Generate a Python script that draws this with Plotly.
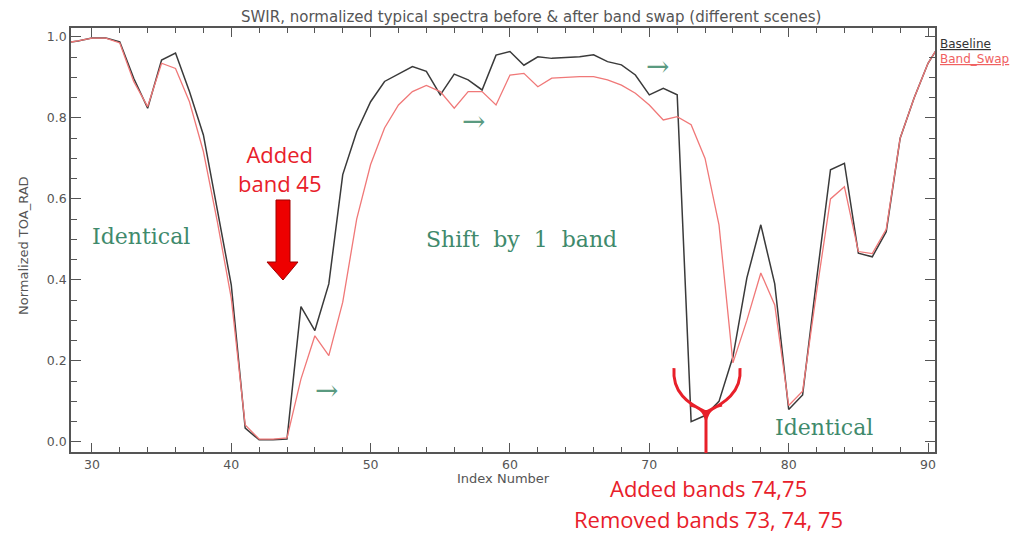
import plotly.graph_objects as go

# ---- data ----
band_index = list(range(28, 92))
baseline = [0.985, 0.99, 0.997, 0.997, 0.988, 0.898, 0.824, 0.943, 0.96, 0.865,
            0.758, 0.569, 0.388, 0.034, 0.005, 0.005, 0.007, 0.334, 0.275, 0.39,
            0.66, 0.766, 0.84, 0.89, 0.908, 0.927, 0.915, 0.857, 0.908, 0.894,
            0.869, 0.955, 0.964, 0.93, 0.951, 0.947, 0.949, 0.951, 0.956, 0.939,
            0.931, 0.906, 0.857, 0.873, 0.857, 0.05, 0.065, 0.10, 0.21, 0.405,
            0.536, 0.39, 0.08, 0.116, 0.40, 0.672, 0.688, 0.466, 0.457, 0.519,
            0.75, 0.849, 0.935, 0.99]
band_swap = [0.985, 0.99, 0.997, 0.997, 0.985, 0.89, 0.828, 0.935, 0.922, 0.84,
             0.717, 0.544, 0.355, 0.042, 0.007, 0.007, 0.01, 0.155, 0.262, 0.213,
             0.345, 0.55, 0.685, 0.775, 0.832, 0.865, 0.88, 0.865, 0.824, 0.865,
             0.865, 0.832, 0.906, 0.91, 0.877, 0.898, 0.90, 0.902, 0.902, 0.894,
             0.881, 0.861, 0.832, 0.795, 0.803, 0.783, 0.70, 0.536, 0.195, 0.30,
             0.417, 0.338, 0.09, 0.125, 0.37, 0.60, 0.63, 0.47, 0.465, 0.525,
             0.75, 0.849, 0.935, 0.99]
x_ticks = [30, 40, 50, 60, 70, 80, 90]
y_ticks = [0.0, 0.2, 0.4, 0.6, 0.8, 1.0]
y_tick_labels = ["0.0", "0.2", "0.4", "0.6", "0.8", "1.0"]

W, H = 1018, 534
L, R, T, B = 71, 83, 28, 82
PW, PH = W - L - R, H - T - B


def px(xp):
    return (xp - L) / PW


def py(yp):
    return (H - B - yp) / PH


AX = "#555555"
GREEN = "#3f8a6c"
RED = "#e8202a"

fig = go.Figure()
fig.add_trace(go.Scatter(x=band_index, y=baseline, mode="lines", name="Baseline",
                         line=dict(color="#3a3a3a", width=1.5)))
fig.add_trace(go.Scatter(x=band_index, y=band_swap, mode="lines", name="Band_Swap",
                         line=dict(color="#f07878", width=1.3)))

axis_common = dict(showgrid=False, zeroline=False, showline=True, linecolor=AX,
                   linewidth=1.5, mirror="ticks", ticks="inside", tickcolor=AX,
                   tickfont=dict(family="DejaVu Sans", size=12.5, color="#555555"))
fig.update_xaxes(range=[28.5, 90.5], tickvals=x_ticks, ticklen=9, tickwidth=1,
                 minor=dict(dtick=2, ticks="inside", ticklen=5, tickcolor=AX),
                 **axis_common)
fig.update_yaxes(range=[-0.025, 1.022], tickvals=y_ticks, ticktext=y_tick_labels,
                 ticklen=10, tickwidth=1,
                 minor=dict(dtick=0.05, ticks="inside", ticklen=6, tickcolor=AX),
                 **axis_common)


def pann(text, xp, yp, font, xanchor="center", **kw):
    return dict(text=text, x=px(xp), y=py(yp), xref="paper", yref="paper",
                xanchor=xanchor, yanchor="middle", showarrow=False, font=font, **kw)


ann = []
# title and axis titles
ann.append(pann("SWIR, normalized typical spectra before & after band swap (different scenes)",
                531, 17, dict(family="DejaVu Sans", size=15, color="#555555")))
ann.append(pann("Index Number", 503, 478, dict(family="DejaVu Sans", size=13, color="#555555")))
ann.append(pann("Normalized TOA_RAD", 24, 246, dict(family="DejaVu Sans", size=13, color="#555555"),
                textangle=-90))
# legend
ann.append(pann("<u>Baseline</u>", 938, 44, dict(family="DejaVu Sans", size=12, color="#333333"),
                xanchor="left"))
ann.append(pann("<u>Band_Swap</u>", 938, 59, dict(family="DejaVu Sans", size=12, color="#f06060"),
                xanchor="left"))
# green labels
serif = dict(family="DejaVu Serif", size=22, color=GREEN)
ann.append(dict(text="Identical", x=33.5, y=0.506, showarrow=False, font=serif,
                xanchor="center", yanchor="middle"))
ann.append(dict(text="Shift  by  1  band", x=60.8, y=0.499, showarrow=False, font=serif,
                xanchor="center", yanchor="middle"))
ann.append(dict(text="Identical", x=82.5, y=0.035, showarrow=False, font=serif,
                xanchor="center", yanchor="middle"))
for (ax_, ay_) in [(46.8, 0.128), (57.35, 0.79), (70.6, 0.928)]:
    ann.append(dict(text="→", x=ax_, y=ay_, showarrow=False, xanchor="center", yanchor="middle",
                    font=dict(family="DejaVu Serif", size=28, color="#5a9a80")))
# red labels
sans = dict(family="Open Sans", size=22, color=RED)
ann.append(pann("Added<br>band 45", 280, 169, sans))
ann.append(pann("Added bands 74,75", 708, 488, sans))
ann.append(pann("Removed bands 73, 74, 75", 708, 519, sans))


def P(a, b):
    return f"{px(a):.5f},{py(b):.5f}"


shapes = []
# big red down arrow
arrow_pts = [(276, 200), (290, 200), (290, 262), (298, 262), (283, 280), (267, 262), (276, 262)]
shapes.append(dict(type="path", xref="paper", yref="paper",
                   path="M " + " L ".join(P(a, b) for a, b in arrow_pts) + " Z",
                   fillcolor="#ee0000", line=dict(color="#a00000", width=1)))

# red brace
brace = (f"M {P(674,368)} C {P(672,392)} {P(688,404)} {P(706,412)} "
         f"M {P(740,368)} C {P(742,392)} {P(724,404)} {P(706,412)} "
         f"M {P(690,405)} C {P(700,407)} {P(705,412)} {P(706,420)} "
         f"M {P(722,405)} C {P(712,407)} {P(707,412)} {P(706,420)} "
         f"M {P(706,410)} L {P(706,453)}")
shapes.append(dict(type="path", xref="paper", yref="paper", path=brace,
                   line=dict(color=RED, width=3)))

fig.update_layout(width=W, height=H, margin=dict(l=L, r=R, t=T, b=B),
                  paper_bgcolor="white", plot_bgcolor="white", showlegend=False,
                  annotations=ann, shapes=shapes)
fig.write_html("out.html")
